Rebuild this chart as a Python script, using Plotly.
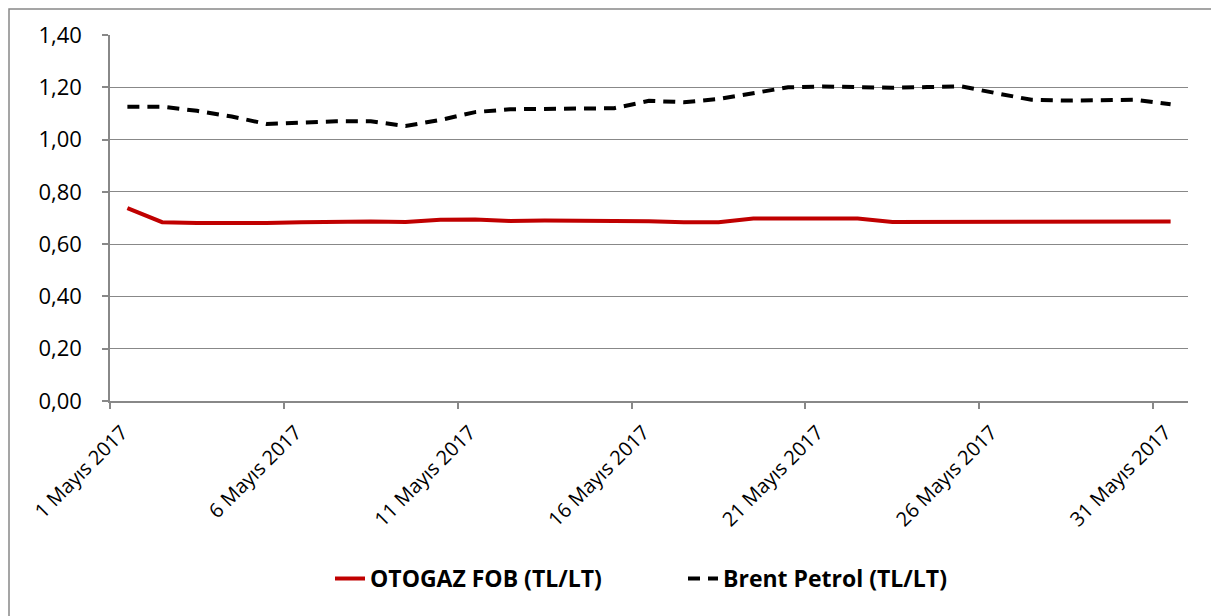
import plotly.graph_objects as go

days = list(range(1, 32))
otogaz = [0.738, 0.684, 0.681, 0.680, 0.681, 0.684, 0.687, 0.687, 0.685, 0.693,
          0.694, 0.689, 0.690, 0.690, 0.690, 0.688, 0.684, 0.684, 0.698, 0.698,
          0.698, 0.698, 0.685, 0.685, 0.685, 0.685, 0.687, 0.687, 0.687, 0.688, 0.687]
brent = [1.126, 1.126, 1.110, 1.088, 1.060, 1.066, 1.070, 1.070, 1.052, 1.075,
         1.105, 1.116, 1.118, 1.118, 1.120, 1.148, 1.143, 1.155, 1.177, 1.200,
         1.203, 1.201, 1.198, 1.201, 1.203, 1.177, 1.152, 1.149, 1.149, 1.152, 1.135]
tick_days = [1, 6, 11, 16, 21, 26, 31]
tick_labels = [f"{d} Mayıs 2017" for d in tick_days]
y_ticks = [0, 0.2, 0.4, 0.6, 0.8, 1.0, 1.2, 1.4]
y_labels = ["0,00", "0,20", "0,40", "0,60", "0,80", "1,00", "1,20", "1,40"]

fig = go.Figure()
fig.add_trace(go.Scatter(x=days, y=otogaz, mode="lines", name="OTOGAZ FOB (TL/LT)",
                         line=dict(color="#C00000", width=4)))
fig.add_trace(go.Scatter(x=days, y=brent, mode="lines", name="Brent Petrol (TL/LT)",
                         line=dict(color="#000000", width=4, dash="12px,8px")))

# page has an 8px body margin: work in page pixels, then shift
OFF = 8
W, H = 1219 - OFF, 616 - OFF
L, R, T, B = 110 - OFF, 1188 - OFF, 35 - OFF, 401.3 - OFF
pw, ph = R - L, B - T

def px_x(x):
    return (x - OFF - L) / pw

def px_y(y):
    return (B - (y - OFF)) / ph

fig.add_shape(type="rect", xref="paper", yref="paper",
              x0=px_x(9), x1=px_x(1213), y0=px_y(660), y1=px_y(9),
              line=dict(color="#888888", width=1.5), fillcolor="rgba(0,0,0,0)", layer="below")

grid_col = "#888888"
fig.update_layout(
    width=W, height=H,
    margin=dict(l=L, r=W - R, t=T, b=H - B),
    paper_bgcolor="white", plot_bgcolor="white",
    font=dict(family="Open Sans", size=20, color="black"),
    showlegend=True,
    legend=dict(orientation="h", x=px_x(330), xanchor="left", y=px_y(579), yanchor="middle",
                font=dict(family="Open Sans", size=23, color="black", weight="bold"),
                entrywidth=308),
    xaxis=dict(range=[0.5, 31.5], tickmode="array",
               tickvals=[d - 0.5 for d in tick_days], ticktext=tick_labels,
               tickangle=-45, showgrid=False, showline=True, linecolor=grid_col, linewidth=1.5,
               ticks="outside", ticklen=6, tickcolor=grid_col, tickwidth=1.5,
               tickfont=dict(size=20), zeroline=False,
               ticklabelshift=12, ticklabelstandoff=4),
    yaxis=dict(range=[0, 1.4], tickmode="array", tickvals=y_ticks, ticktext=y_labels,
               showgrid=True, gridcolor=grid_col, gridwidth=1.3,
               showline=True, linecolor=grid_col, linewidth=1.5,
               ticks="outside", ticklen=6, tickcolor=grid_col, tickwidth=1.5,
               tickfont=dict(size=22), zeroline=False, ticklabelstandoff=16),
)

fig.write_html("out.html")
